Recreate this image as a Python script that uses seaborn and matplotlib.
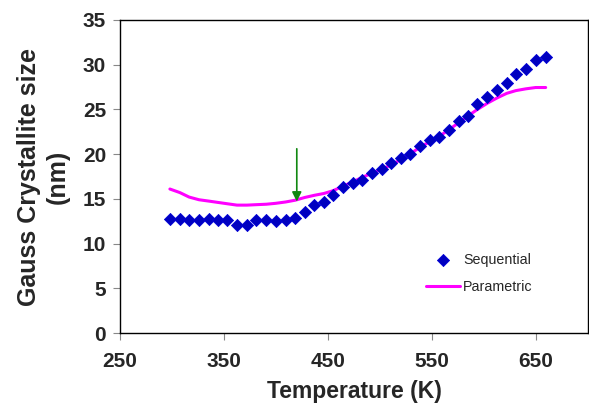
import numpy as np
import pandas as pd
import matplotlib
matplotlib.use("Agg")
import matplotlib.pyplot as plt
import seaborn as sns

# Temperatures (K) of the measurements
temperature = [298, 307.6, 316.5, 326, 335.4, 344.3, 353.3, 362.5, 372.1, 381.1,
               390.7, 399.6, 409.2, 418.5, 427.5, 437, 446, 454.6, 464.2, 473.8,
               482.8, 492, 501.6, 510.6, 520.2, 528.8, 538.7, 548, 557, 565.9,
               575.5, 585, 593.7, 603.3, 612.8, 621.9, 630.5, 640.1, 649.7, 659.3]

# Gauss crystallite size (nm), sequential refinement
sequential = [12.75, 12.71, 12.63, 12.63, 12.71, 12.63, 12.63, 12.07, 12.07, 12.63,
              12.63, 12.52, 12.63, 12.82, 13.56, 14.31, 14.68, 15.43, 16.29, 16.74,
              17.10, 17.92, 18.30, 19.04, 19.53, 20.01, 20.94, 21.58, 21.88, 22.70,
              23.70, 24.26, 25.60, 26.35, 27.17, 27.98, 28.92, 29.48, 30.52, 30.89]

# Gauss crystallite size (nm), parametric refinement
parametric = [16.10, 15.70, 15.20, 14.90, 14.75, 14.60, 14.45, 14.30, 14.30, 14.35,
              14.40, 14.50, 14.65, 14.85, 15.15, 15.40, 15.60, 15.90, 16.40, 16.90,
              17.40, 17.85, 18.30, 18.80, 19.40, 20.00, 20.80, 21.40, 22.00, 22.70,
              23.50, 24.30, 25.00, 25.70, 26.30, 26.80, 27.10, 27.30, 27.45, 27.45]

x_ticks = [250, 350, 450, 550, 650]
y_ticks = [0, 5, 10, 15, 20, 25, 30, 35]

# Temperature marked by the arrow, and the arrow's vertical extent (nm)
arrow_temp = 420
arrow_top, arrow_tip = 20.6, 14.7

df = pd.DataFrame({"T": temperature, "Sequential": sequential, "Parametric": parametric})

sns.set_theme(style="white")
plt.rcParams["font.family"] = ["Liberation Sans", "DejaVu Sans"]

fig = plt.figure(figsize=(5.89, 4.08), dpi=100)
ax = fig.add_axes([0.2037, 0.1838, 0.7946, 0.7672])

sns.scatterplot(data=df, x="T", y="Sequential", ax=ax, marker="D", s=38,
                color="#0000C0", edgecolor="#0000D8", linewidth=0.6,
                label="Sequential", zorder=3)
sns.lineplot(data=df, x="T", y="Parametric", ax=ax, color="#FF00FF",
             linewidth=2.2, label="Parametric", zorder=2)

ax.annotate("", xy=(arrow_temp, arrow_tip), xytext=(arrow_temp, arrow_top),
            arrowprops=dict(arrowstyle="-|>", color="#118811", lw=1.2,
                            mutation_scale=14, shrinkA=0, shrinkB=0), zorder=4)

ax.set_xlim(250, 700)
ax.set_ylim(0, 35)
ax.set_xticks(x_ticks)
ax.set_yticks(y_ticks)
ax.tick_params(axis="both", which="major", direction="out", length=5, width=0.8,
               color="#888888", labelsize=15)
ax.tick_params(axis="x", bottom=True, pad=9)
ax.tick_params(axis="y", left=True, pad=5)
for lbl in ax.get_xticklabels() + ax.get_yticklabels():
    lbl.set_fontweight("bold")

for side in ["left", "right", "top", "bottom"]:
    ax.spines[side].set_visible(True)
    ax.spines[side].set_color("black")
    ax.spines[side].set_linewidth(1.0)

ax.set_xlabel("Temperature (K)", fontsize=16.5, fontweight="bold", labelpad=6)
ax.set_ylabel("Gauss Crystallite size\n(nm)", fontsize=18, fontweight="bold",
              labelpad=9, linespacing=1.3)

leg = ax.legend(loc="center left", bbox_to_anchor=(0.654, 0.19), frameon=False,
                fontsize=10.3, handlelength=2.4, handletextpad=0.2,
                labelspacing=0.9, borderpad=0, borderaxespad=0)

fig.savefig("out.png", dpi=100)
